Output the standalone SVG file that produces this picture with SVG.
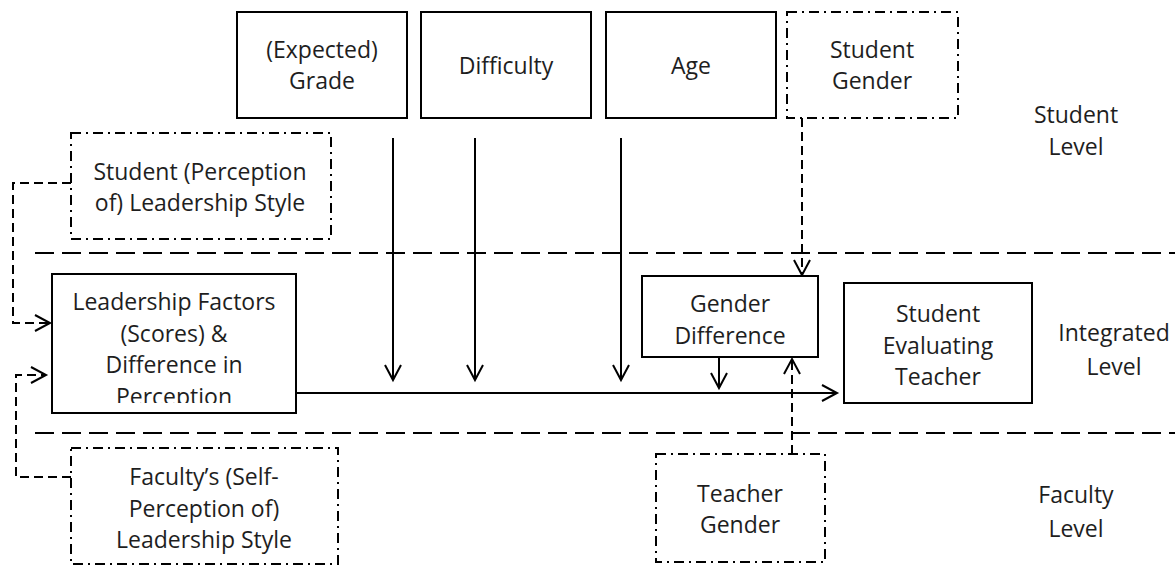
<svg xmlns="http://www.w3.org/2000/svg" width="1175" height="568" viewBox="0 0 1175 568">
<style>
text{font-family:"Open Sans","Liberation Sans",sans-serif;font-size:23px;fill:#1e1e1e;text-anchor:middle}
.box{fill:#fff;stroke:#000;stroke-width:2}
.dbox{fill:none;stroke:#000;stroke-width:2;stroke-dasharray:10 5 2 5}
.sep{fill:none;stroke:#000;stroke-width:2;stroke-dasharray:19 8}
.solid{fill:none;stroke:#000;stroke-width:2}
.dash{fill:none;stroke:#000;stroke-width:2;stroke-dasharray:9 5}
</style>
<defs>
<marker id="arr" markerUnits="userSpaceOnUse" markerWidth="20" markerHeight="20" viewBox="-17 -10 20 20" refX="0" refY="0" orient="auto" overflow="visible">
<path d="M-15,-8 L0,0 L-15,8" fill="none" stroke="#000" stroke-width="2" stroke-dasharray="none"/>
</marker>
<clipPath id="lfclip"><rect x="52" y="274" width="244" height="129"/></clipPath>
</defs>

<g id="level-separators">
<line class="sep" x1="35" y1="253" x2="1175" y2="253"/>
<line class="sep" x1="35" y1="433" x2="1175" y2="433"/>
</g>

<g id="connectors">
<path class="solid" d="M393,138 V380" marker-end="url(#arr)"/>
<path class="solid" d="M475,138 V380" marker-end="url(#arr)"/>
<path class="solid" d="M621,138 V380" marker-end="url(#arr)"/>
<path class="solid" d="M296,393 H837" marker-end="url(#arr)"/>
<path class="solid" d="M719,357 V388" marker-end="url(#arr)"/>
<path class="dash" d="M802,118 V275" marker-end="url(#arr)"/>
<path class="dash" d="M792,454 V359" marker-end="url(#arr)"/>
<path class="dash" d="M71,183 H13 V323 H50" marker-end="url(#arr)"/>
<path class="dash" d="M71,477 H16 V375 H46" marker-end="url(#arr)"/>
</g>

<g id="grade">
<rect class="box" x="237" y="12" width="170" height="106"/>
<text x="322" y="58">(Expected)</text>
<text x="322" y="89">Grade</text>
</g>
<g id="difficulty">
<rect class="box" x="421" y="12" width="170" height="106"/>
<text x="506" y="74">Difficulty</text>
</g>
<g id="age">
<rect class="box" x="606" y="12" width="170" height="106"/>
<text x="691" y="74">Age</text>
</g>
<g id="student-gender">
<rect class="dbox" x="787" y="12" width="171" height="106"/>
<text x="872" y="58">Student</text>
<text x="872" y="89">Gender</text>
</g>
<g id="student-perception">
<rect class="dbox" x="71" y="133" width="260" height="106"/>
<text x="200" y="180">Student (Perception</text>
<text x="200" y="211">of) Leadership Style</text>
</g>
<g id="leadership-factors">
<rect class="box" x="52" y="274" width="244" height="139"/>
<g clip-path="url(#lfclip)">
<text x="174" y="310">Leadership Factors</text>
<text x="174" y="342">(Scores) &amp;</text>
<text x="174" y="373">Difference in</text>
<text x="174" y="405">Perception</text>
</g>
</g>
<g id="gender-difference">
<rect class="box" x="642" y="276" width="176" height="81"/>
<text x="730" y="312">Gender</text>
<text x="730" y="344">Difference</text>
</g>
<g id="student-evaluating-teacher">
<rect class="box" x="844" y="283" width="188" height="120"/>
<text x="938" y="322">Student</text>
<text x="938" y="354">Evaluating</text>
<text x="938" y="385">Teacher</text>
</g>
<g id="faculty-perception">
<rect class="dbox" x="71" y="448" width="267" height="116"/>
<text x="204" y="485">Faculty’s (Self-</text>
<text x="204" y="517">Perception of)</text>
<text x="204" y="548">Leadership Style</text>
</g>
<g id="teacher-gender">
<rect class="dbox" x="656" y="454" width="169" height="108"/>
<text x="740" y="502">Teacher</text>
<text x="740" y="533">Gender</text>
</g>

<g id="level-labels">
<text x="1076" y="123">Student</text>
<text x="1076" y="155">Level</text>
<text x="1114" y="341">Integrated</text>
<text x="1114" y="375">Level</text>
<text x="1076" y="503">Faculty</text>
<text x="1076" y="537">Level</text>
</g>
</svg>
